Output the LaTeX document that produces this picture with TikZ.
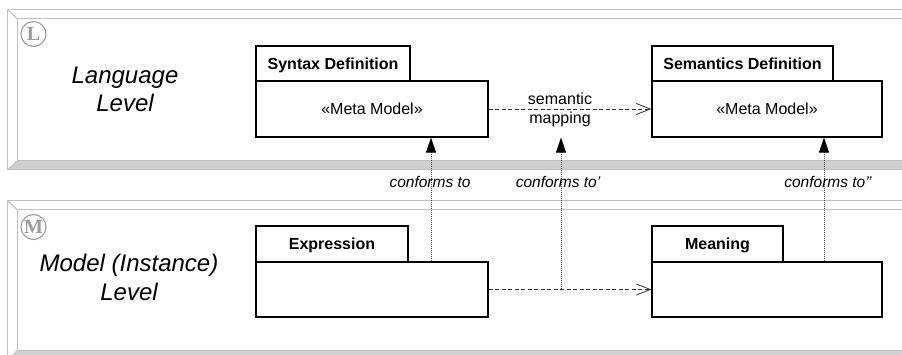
\documentclass[tikz,border=0pt]{standalone}
\usepackage{fontspec}
\setmainfont{Liberation Sans}
\newfontfamily\levelmarkfont{Liberation Serif}
\usetikzlibrary{arrows.meta}

\definecolor{bandedge}{HTML}{C0C0C0}
\definecolor{bandshade}{HTML}{CFCFCF}
\definecolor{markgray}{HTML}{9C9C9C}
\definecolor{linkgray}{HTML}{333333}

% bevelled level band: #1 = outer top, #2 = outer bottom
\newcommand\drawlevelband[2]{%
  \fill[white] (7.5,#1) rectangle (910,#2);
  \fill[bandshade] (7.5,#2) -- (17.5,#2-9.5) -- (910,#2-9.5) -- (910,#2) -- cycle;
  \draw[bandline] (7.5,#1) rectangle (910,#2);
  \draw[bandline] (17.5,#1+9.5) rectangle (910,#2-9.5);
  \draw[bandline] (7.5,#1) -- (17.5,#1+9.5) (7.5,#2) -- (17.5,#2-9.5);
}

\tikzset{
  bandline/.style={draw=bandedge, line width=1pt},
  levelmark/.style={circle, draw=markgray, line width=1.1pt, minimum size=25pt,
    inner sep=0pt, text=markgray, font=\levelmarkfont\bfseries\fontsize{20}{20}\selectfont},
  leveltext/.style={anchor=base, inner sep=0pt, font=\fontsize{24}{29}\selectfont\itshape},
  boxline/.style={draw=black, line width=1.2pt, inner sep=0pt, fill=white},
  headbox/.style={boxline, minimum height=35pt,
    font=\fontsize{16}{19}\selectfont\bfseries, text height=11.5pt, text depth=0pt},
  bodybox/.style={boxline, minimum height=56pt,
    font=\fontsize{16}{19}\selectfont, text height=11.5pt, text depth=0pt},
  mapline/.style={draw=linkgray, line width=0.8pt, dash pattern=on 4pt off 2.5pt,
    -{Straight Barb[length=14pt,width=11pt,line width=0.8pt]}},
  confline/.style={draw=black!70, line width=0.7pt, dash pattern=on 1pt off 1pt,
    -{Triangle[length=15pt,width=10pt,black]}},
  conflabel/.style={anchor=base, inner sep=0pt, font=\fontsize{15.5}{18}\selectfont\itshape},
  maplabel/.style={align=center, inner sep=0pt, font=\fontsize{16}{19}\selectfont},
}

\begin{document}
\begin{tikzpicture}[x=1pt,y=-1pt]
  \useasboundingbox (0,0) rectangle (902,355);
  \clip (0,0) rectangle (902,355);
  \fill[white] (0,0) rectangle (902,355);

  % the two level bands
  \drawlevelband{9.5}{170}
  \drawlevelband{200.5}{360}

  \node[levelmark] (markL) at (33.5,34) {L};
  \node[levelmark] (markM) at (33.5,227) {M};

  \node[leveltext] (langA) at (125,84) {Language};
  \node[leveltext] (langB) at (125,112) {Level};
  \node[leveltext] (modA) at (129,272) {Model (Instance)};
  \node[leveltext] (modB) at (129,301) {Level};

  % language level classes
  \node[headbox, minimum width=154pt] (synH) at (333,63.5) {Syntax Definition};
  \node[bodybox, minimum width=232pt] (synB) at (372,109) {«Meta Model»};
  \node[headbox, minimum width=181pt] (semH) at (742.5,63.5) {Semantics Definition};
  \node[bodybox, minimum width=230pt] (semB) at (767,109) {«Meta Model»};

  % model level classes
  \node[headbox, minimum width=152pt, minimum height=36pt] (exH) at (332,244) {Expression};
  \node[bodybox, minimum width=232pt, minimum height=55pt] (exB) at (372,289.5) {};
  \node[headbox, minimum width=131pt, minimum height=36pt] (mnH) at (717.5,244) {Meaning};
  \node[bodybox, minimum width=230pt, minimum height=55pt] (mnB) at (767,289.5) {};

  % semantic mapping
  \draw[mapline] (synB.east) -- (semB.west);
  \node[maplabel] (map) at (560,109.5) {semantic\\mapping};
  \draw[mapline] (exB.east) -- (mnB.west);

  % conformance links
  \coordinate (cfA) at (431,0);
  \coordinate (cfB) at (561,0);
  \coordinate (cfC) at (824,0);
  \draw[confline] (exB.north -| cfA) -- (synB.south -| cfA);
  \draw[confline] (exB.east -| cfB) -- (synB.south -| cfB);
  \draw[confline] (mnB.north -| cfC) -- (semB.south -| cfC);

  \node[conflabel] (confA) at (430,188) {conforms to};
  \node[conflabel] (confB) at (558,188) {conforms to’};
  \node[conflabel] (confC) at (828,188) {conforms to’’};
\end{tikzpicture}
\end{document}
